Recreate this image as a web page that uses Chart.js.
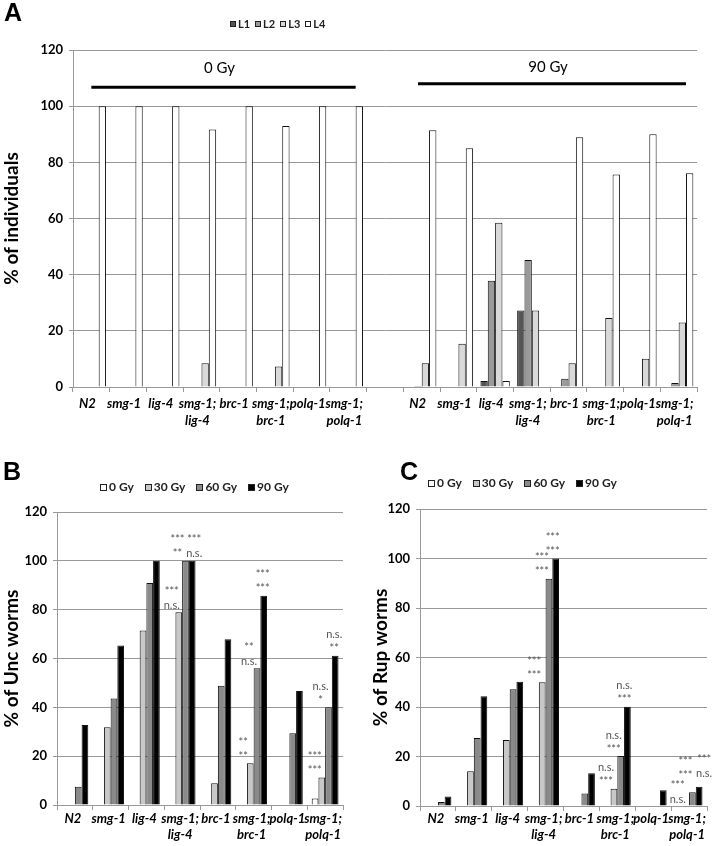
<!DOCTYPE html>
<html>
<head>
<meta charset="utf-8">
<script src="https://cdn.jsdelivr.net/npm/chart.js@4.4.0/dist/chart.umd.min.js"></script>
<style>
    body { margin: 0; background: #fff; }
    .page { position: relative; width: 714px; height: 846px; overflow: hidden; }
    canvas { position: absolute; }
    .letter { position: absolute; font: bold 25px "Liberation Sans", Arial, sans-serif; line-height: 25px; color: #000; }
    .legend { position: absolute; display: flex; align-items: center; font-family: Lato, sans-serif; font-weight: bold; color: #222; white-space: nowrap; line-height: 14px; }
    .legend .item { display: flex; align-items: center; }
    .legend .box { display: inline-block; box-sizing: border-box; border: 1px solid #222; margin-right: 2px; }
</style>
</head>
<body>
<div class="page">
    <canvas id="stageChart" width="714" height="446" style="left:0;top:0"></canvas>
    <canvas id="uncChart" width="357" height="376" style="left:0;top:470px"></canvas>
    <canvas id="rupChart" width="357" height="376" style="left:357px;top:470px"></canvas>
    <div class="letter" style="left:4px;top:0">A</div>
    <div class="letter" style="left:3px;top:459px">B</div>
    <div class="letter" style="left:400px;top:459px">C</div>
    <div class="legend" id="legendA" style="left:230px;top:17px;font-size:11px;gap:5px"></div>
    <div class="legend" id="legendB" style="left:100px;top:480px;font-size:12px;gap:11px"></div>
    <div class="legend" id="legendC" style="left:428px;top:476px;font-size:12px;gap:11px"></div>
</div>
<script>
// strains on the x axis (multi-line labels)
const strains = [['N2'], ['smg-1'], ['lig-4'], ['smg-1;', 'lig-4'], ['brc-1'], ['smg-1;', 'brc-1'], ['polq-1'], ['smg-1;', 'polq-1']];

// panel A: larval stage, 0 Gy then 90 Gy
const stageNames = ['L1', 'L2', 'L3', 'L4'];
const stageL1_0Gy = [0, 0, 0, 0, 0, 0, 0, 0];
const stageL2_0Gy = [0, 0, 0, 0, 0, 0, 0, 0];
const stageL3_0Gy = [0, 0, 0, 8.5, 0, 7.3, 0, 0];
const stageL4_0Gy = [100, 100, 100, 91.7, 100, 92.9, 100, 100];
const stageL1_90Gy = [0, 0, 2.1, 27.2, 0, 0, 0, 0];
const stageL2_90Gy = [0.4, 0, 37.8, 45.2, 2.9, 0, 0, 1.4];
const stageL3_90Gy = [8.5, 15.4, 58.5, 27.2, 8.5, 24.6, 10.1, 23.0];
const stageL4_90Gy = [91.4, 85.0, 2.1, 0, 88.9, 75.7, 90.0, 76.1];

// panels B and C: dose series
const doseNames = ['0 Gy', '30 Gy', '60 Gy', '90 Gy'];
const unc0Gy = [0, 0, 0, 0, 0, 0, 0, 2.7];
const unc30Gy = [0, 31.8, 71.5, 78.9, 8.9, 17.1, 0, 11.3];
const unc60Gy = [7.5, 43.6, 90.9, 100, 48.8, 56.0, 29.4, 40.0];
const unc90Gy = [32.8, 65.3, 100, 100, 67.9, 85.7, 46.7, 61.1];
const rup0Gy = [0, 0, 0, 0, 0, 0, 0, 0];
const rup30Gy = [0, 14.0, 26.7, 50.0, 0, 7.0, 0, 0];
const rup60Gy = [1.6, 27.5, 47.2, 91.8, 5.1, 20.2, 0, 5.6];
const rup90Gy = [3.8, 44.3, 50.2, 100, 13.2, 40.1, 6.4, 7.8];

// significance labels: [strain index, dose index, lower label, upper label]
const uncSignif = [
    [3, 1, 'n.s.', '***'], [3, 2, '**', '***'], [3, 3, 'n.s.', '***'],
    [5, 1, '**', '**'], [5, 2, 'n.s.', '**'], [5, 3, '***', '***'],
    [7, 1, '***', '***'], [7, 2, '*', 'n.s.'], [7, 3, '**', 'n.s.']
];
const rupSignif = [
    [3, 1, '***', '***'], [3, 2, '***', '***'], [3, 3, '***', '***'],
    [5, 1, '***', 'n.s.'], [5, 2, '***', 'n.s.'], [5, 3, '***', 'n.s.'],
    [7, 1, 'n.s.', '***'], [7, 2, '***', '***'], [7, 3, 'n.s.', '***']
];

const yTicks = [0, 20, 40, 60, 80, 100, 120];

const stageColors = ['#555555', '#9a9a9a', '#d9d9d9', '#ffffff'];
const doseColors = ['#ffffff', '#c8c8c8', '#8a8a8a', '#000000'];
const GRID = '#999999';

document.addEventListener('DOMContentLoaded', function() {
    buildLegend('legendA', stageNames, stageColors, 6);
    buildLegend('legendB', doseNames, doseColors, 7);
    buildLegend('legendC', doseNames, doseColors, 7);

    createStageChart();
    createDoseChart('uncChart', '% of Unc worms', [unc0Gy, unc30Gy, unc60Gy, unc90Gy], uncSignif, {
        padding: { left: 0, top: 42, right: 14, bottom: 0 }, yWidth: 57, xHeight: 41, xPad: 1,
        nudge: [0, -7, -8, -1],
        shift: { '3,3': [3, 0] }
    });
    createDoseChart('rupChart', '% of Rup worms', [rup0Gy, rup30Gy, rup60Gy, rup90Gy], rupSignif, {
        padding: { left: 12, top: 39, right: 7, bottom: 0 }, yWidth: 51, xHeight: 40, xPad: 0,
        nudge: [0, -8, -7, -3],
        shift: { '7,2': [0, -10], '7,3': [8, -6] }
    });
});

// legend with small square swatches
function buildLegend(id, names, colors, size) {
    const el = document.getElementById(id);
    names.forEach((name, i) => {
        const item = document.createElement('span');
        item.className = 'item';
        item.innerHTML = `<span class="box" style="width:${size}px;height:${size}px;background:${colors[i]}"></span>${name}`;
        el.appendChild(item);
    });
}

// dose brackets drawn over panel A
const doseBracketPlugin = {
    id: 'doseBrackets',
    afterDraw(chart, args, opts) {
        const { ctx, scales: { x, y } } = chart;
        ctx.save();
        opts.groups.forEach(g => {
            const x0 = x.getPixelForValue(g.from);
            const x1 = x.getPixelForValue(g.to);
            const yl = y.getPixelForValue(g.lineAt);
            ctx.strokeStyle = '#000';
            ctx.lineWidth = 3;
            ctx.beginPath();
            ctx.moveTo(x0, yl);
            ctx.lineTo(x1, yl);
            ctx.stroke();
            ctx.fillStyle = '#000';
            ctx.font = '15px Lato, sans-serif';
            ctx.textAlign = 'center';
            ctx.textBaseline = 'middle';
            ctx.fillText(g.text, (x0 + x1) / 2 - 4, y.getPixelForValue(g.textAt));
        });
        ctx.restore();
    }
};

// significance stars above bars in B and C
const signifPlugin = {
    id: 'signif',
    afterDatasetsDraw(chart, args, opts) {
        const { ctx } = chart;
        const y = chart.scales.y;
        ctx.save();
        ctx.font = '11px Lato, sans-serif';
        ctx.fillStyle = '#555';
        ctx.textAlign = 'center';
        ctx.textBaseline = 'middle';
        opts.items.forEach(([cat, ds, low, high]) => {
            const bar = chart.getDatasetMeta(ds).data[cat];
            const extra = opts.shift[cat + ',' + ds] || [0, 0];
            const x = bar.x + opts.nudge[ds] + extra[0];
            const top = y.getPixelForValue(chart.data.datasets[ds].data[cat]) + extra[1];
            ctx.fillText(low, x, top - 7);
            ctx.fillText(high, x, top - 21);
        });
        ctx.restore();
    }
};

function scaleOptions(o) {
    return {
        x: {
            grid: { display: true, drawOnChartArea: false, drawTicks: true, tickLength: 5, color: GRID, offset: true },
            border: { color: GRID },
            ticks: {
                autoSkip: false, maxRotation: 0, minRotation: 0, padding: o.xPad, color: '#000',
                labelOffset: o.labelOffset || 0,
                font: { family: 'Lato', size: 13, weight: 'bold', style: 'italic', lineHeight: o.xLineHeight || 1.2 }
            },
            afterFit: s => { s.height = o.xHeight; }
        },
        y: {
            min: 0,
            max: 120,
            afterBuildTicks: s => { s.ticks = yTicks.map(v => ({ value: v })); },
            grid: { color: GRID, tickLength: 4 },
            border: { color: GRID },
            ticks: { padding: 6, color: '#000', font: { family: 'Lato', size: 13, weight: 'bold' } },
            title: { display: true, text: o.yTitle, color: '#000', padding: 0, font: { family: 'Lato', size: 19, weight: 'bold' } },
            afterFit: s => { s.width = o.yWidth; }
        }
    };
}

// panel A
function createStageChart() {
    const gap = [null];
    const series = [
        stageL1_0Gy.concat(gap, stageL1_90Gy),
        stageL2_0Gy.concat(gap, stageL2_90Gy),
        stageL3_0Gy.concat(gap, stageL3_90Gy),
        stageL4_0Gy.concat(gap, stageL4_90Gy)
    ];
    new Chart(document.getElementById('stageChart'), {
        type: 'bar',
        data: {
            labels: strains.concat([['']], strains),
            datasets: series.map((data, i) => ({
                label: stageNames[i],
                data: data,
                backgroundColor: stageColors[i],
                borderColor: '#111',
                borderWidth: 1,
                categoryPercentage: 0.8,
                barPercentage: 1.0
            }))
        },
        options: {
            responsive: false,
            animation: false,
            layout: { padding: { left: 0, top: 50, right: 17, bottom: 0 } },
            plugins: {
                legend: { display: false },
                tooltip: { enabled: false },
                doseBrackets: {
                    groups: [
                        { text: '0 Gy', from: 0, to: 7.2, lineAt: 106.7, textAt: 113.6 },
                        { text: '90 Gy', from: 8.9, to: 16.2, lineAt: 108, textAt: 113.9 }
                    ]
                }
            },
            scales: scaleOptions({ yTitle: '% of individuals', yWidth: 73, xHeight: 59, xPad: 3, xLineHeight: 1.3, labelOffset: -4 })
        },
        plugins: [doseBracketPlugin]
    });
}

// panels B and C
function createDoseChart(canvasId, title, series, signif, o) {
    new Chart(document.getElementById(canvasId), {
        type: 'bar',
        data: {
            labels: strains,
            datasets: series.map((data, i) => ({
                label: doseNames[i],
                data: data,
                backgroundColor: doseColors[i],
                borderColor: '#111',
                borderWidth: 1,
                categoryPercentage: 0.75,
                barPercentage: 1.0
            }))
        },
        options: {
            responsive: false,
            animation: false,
            layout: { padding: o.padding },
            plugins: {
                legend: { display: false },
                tooltip: { enabled: false },
                signif: { items: signif, nudge: o.nudge, shift: o.shift }
            },
            scales: scaleOptions(Object.assign({ yTitle: title, labelOffset: -2 }, o))
        },
        plugins: [signifPlugin]
    });
}
</script>
</body>
</html>
